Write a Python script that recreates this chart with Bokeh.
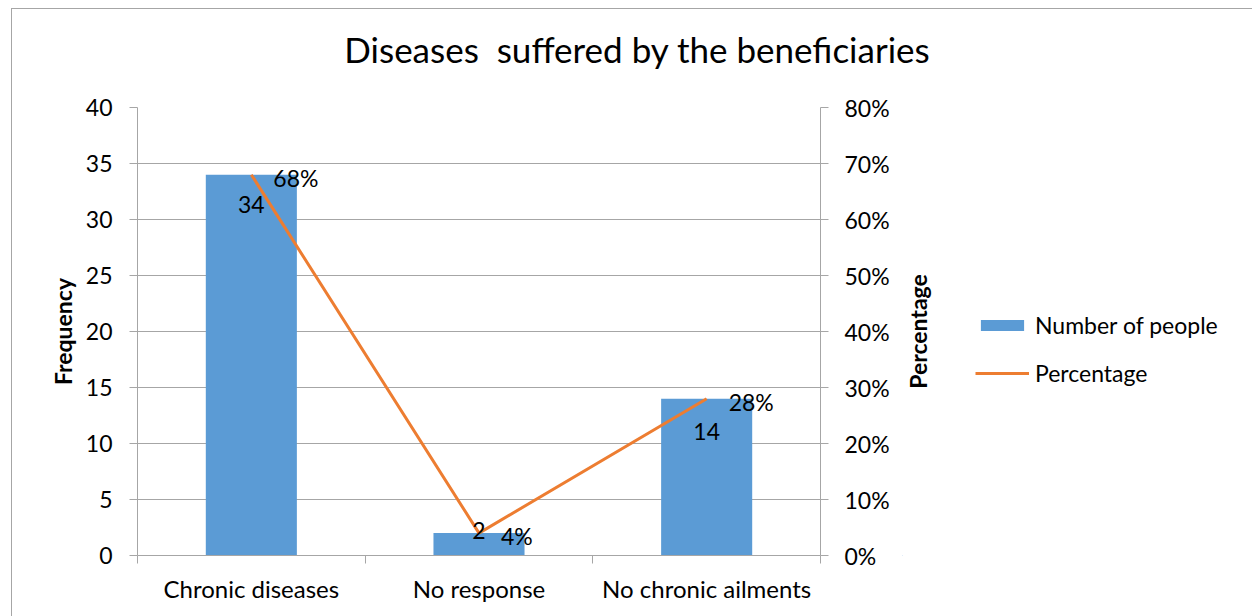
import math
from bokeh.plotting import figure
from bokeh.layouts import row, column
from bokeh.models import (Range1d, LinearAxis, FixedTicker, NumeralTickFormatter,
                          ColumnDataSource, Legend, LegendItem, Label, Div)
from bokeh.embed import file_html
from bokeh.resources import INLINE
from bokeh.core.properties import value

# ---- data ----
categories = ["Chronic diseases", "No response", "No chronic ailments"]
people = [34, 2, 14]
percentage = [0.68, 0.04, 0.28]
left_ticks = [0, 5, 10, 15, 20, 25, 30, 35, 40]
right_ticks = [0.0, 0.1, 0.2, 0.3, 0.4, 0.5, 0.6, 0.7, 0.8]
title_text = "Diseases  suffered by the beneficiaries"
left_label = "Frequency"
right_label = "Percentage"
series_names = ["Number of people", "Percentage"]

# ---- styles ----
FONT = "Lato"
FS = "23px"
BAR = "#5b9bd5"
LINE = "#ed7d31"
GRID = "#a6a6a6"
num_label_dy = [30, -3, 33]   # vertical label offsets (px), style only

WT, HT = 1240, 70
W1, W2, H = 890, 350, 527
FL, FR, FT, FB = 125, 808, 18, 466

centers = [i + 0.5 for i in range(len(categories))]
bounds = [float(i) for i in range(len(categories) + 1)]

src = ColumnDataSource(dict(
    x=centers, people=people, pct=percentage,
    num_txt=[str(v) for v in people],
    pct_txt=[f"{round(v*100)}%" for v in percentage],
    dy=num_label_dy,
))

# title
title = Div(text=title_text, width=WT, height=HT,
            styles={"font-family": FONT, "font-size": "35px", "color": "black",
                    "text-align": "center", "line-height": "70px",
                    "white-space": "pre", "width": f"{WT}px"})

p = figure(width=W1, height=H, output_backend="svg", toolbar_location=None,
           x_range=Range1d(0, len(categories)), y_range=Range1d(0, 40),
           min_border_left=FL, min_border_right=W1 - FR,
           min_border_top=FT, min_border_bottom=H - FB)
p.outline_line_color = None
p.background_fill_color = "white"
p.border_fill_color = "white"
p.extra_y_ranges = {"pct": Range1d(0, 0.8)}

# grid
p.xgrid.grid_line_color = None
p.ygrid.grid_line_color = GRID
p.ygrid.ticker = FixedTicker(ticks=left_ticks)

# x axis: labels at centers, boundary ticks as minor ticks
xa = p.xaxis[0]
xa.ticker = FixedTicker(ticks=centers, minor_ticks=bounds)
xa.major_label_overrides = {c: n for c, n in zip(centers, categories)}
xa.major_tick_line_color = None
xa.major_tick_out = 0
xa.major_tick_in = 0
xa.minor_tick_out = 8
xa.minor_tick_in = 0
xa.minor_tick_line_color = GRID
xa.axis_line_color = GRID
xa.major_label_standoff = 10
xa.major_label_text_font = FONT
xa.major_label_text_font_size = "24px"
xa.major_label_text_color = "black"

# left axis
ya = p.yaxis[0]
ya.ticker = FixedTicker(ticks=left_ticks)
ya.axis_line_color = GRID
ya.major_tick_line_color = GRID
ya.major_tick_out = 8
ya.major_tick_in = 0
ya.minor_tick_line_color = None
ya.major_label_standoff = 17
ya.major_label_text_font = FONT
ya.major_label_text_font_size = FS
ya.major_label_text_color = "black"
ya.axis_label = left_label
ya.axis_label_text_font = FONT
ya.axis_label_text_font_style = "bold"
ya.axis_label_text_font_size = FS
ya.axis_label_text_color = "black"
ya.axis_label_standoff = 6

# right axis (its title is drawn in the side panel figure)
ra = LinearAxis(y_range_name="pct", ticker=FixedTicker(ticks=right_ticks),
                formatter=NumeralTickFormatter(format="0%"))
ra.axis_line_color = GRID
ra.major_tick_line_color = GRID
ra.major_tick_out = 8
ra.major_tick_in = 0
ra.minor_tick_line_color = None
ra.major_label_standoff = 16
ra.major_label_text_font = FONT
ra.major_label_text_font_size = FS
ra.major_label_text_color = "black"
p.add_layout(ra, "right")

# glyphs
bars = p.vbar(x="x", top="people", width=0.4, source=src, fill_color=BAR, line_color=None)
ln = p.line(x="x", y="pct", source=src, y_range_name="pct", line_color=LINE, line_width=3)

p.text(x="x", y="people", text="num_txt", source=src, y_offset="dy",
       text_align="center", text_baseline="middle",
       text_font=value(FONT), text_font_size=FS, text_color="black")
p.text(x="x", y="pct", text="pct_txt", source=src, y_range_name="pct",
       x_offset=22, y_offset=3, text_align="left", text_baseline="middle",
       text_font=value(FONT), text_font_size=FS, text_color="black")

# side panel figure: right axis title + legend (its ranges keep the series out of view)
lf = figure(width=W2, height=H, output_backend="svg", toolbar_location=None,
            x_range=Range1d(100, 101), y_range=Range1d(100, 101),
            min_border=0, min_border_left=0, min_border_right=0,
            min_border_top=0, min_border_bottom=0)
lf.axis.visible = False
lf.grid.visible = False
lf.outline_line_color = None
lf.background_fill_color = "white"
lf.border_fill_color = "white"

lf.add_layout(Label(x=15.5, y=224, x_units="screen", y_units="screen",
                    text=right_label, angle=math.pi / 2,
                    text_align="center", text_baseline="middle",
                    text_font=FONT, text_font_size=FS, text_font_style="bold",
                    text_color="black"))

lbar = lf.vbar(x="x", top="people", width=0.4, source=src, fill_color=BAR, line_color=None)
lline = lf.line(x="x", y="pct", source=src, line_color=LINE, line_width=3)
legend = Legend(items=[LegendItem(label=series_names[0], renderers=[lbar]),
                       LegendItem(label=series_names[1], renderers=[lline])],
                location=(73, 168), orientation="vertical",
                padding=0, margin=0, spacing=20,
                glyph_width=54, glyph_height=14, label_height=20, label_standoff=6,
                label_text_font=FONT, label_text_font_size=FS, label_text_color="black",
                border_line_color=None, background_fill_alpha=0)
lf.add_layout(legend, "center")

layout = column(title, row(p, lf))
layout.styles = {"margin-left": "11px", "margin-top": "8px",
                 "border-left": "1px solid #a6a6a6", "border-top": "1px solid #a6a6a6"}

open("out.html", "w").write(file_html(layout, INLINE))
